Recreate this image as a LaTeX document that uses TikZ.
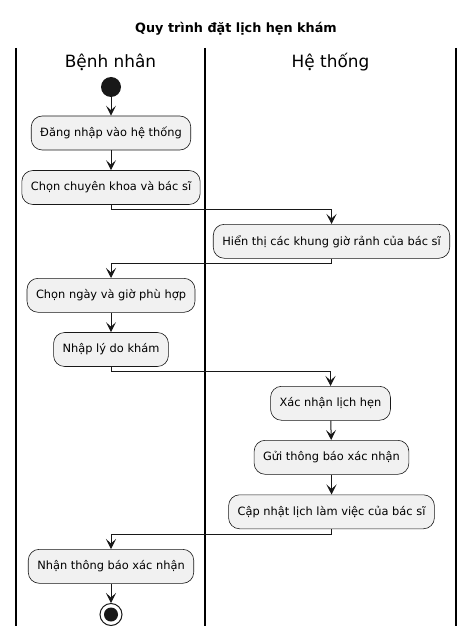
\documentclass[tikz,border=0pt]{standalone}
\usepackage{fontspec}
\setmainfont{DejaVu Sans}
\usetikzlibrary{arrows.meta,positioning}
\definecolor{boxfill}{HTML}{F1F1F1}
\definecolor{ink}{HTML}{181818}
\tikzset{
  act/.style={draw=ink, line width=0.6pt, fill=boxfill, rounded corners=11pt,
    minimum height=34pt, inner xsep=9pt, inner ysep=0pt, font=\fontsize{11.4}{14}\selectfont, text=black},
  arr/.style={draw=ink, line width=1pt, -{Stealth[length=10pt,width=10pt,inset=4.5pt]}},
  lane/.style={draw=black, line width=1.3pt},
  hdr/.style={font=\fontsize{16.9}{20}\selectfont, text=black},
}
\begin{document}
\begin{tikzpicture}[x=1pt,y=-1pt]
\useasboundingbox (0,0) rectangle (474,636);
\fill[white] (0,0) rectangle (474,636);
% title
\node[font=\bfseries\fontsize{12.8}{15}\selectfont] (title) at (236,29) {Quy trình đặt lịch hẹn khám};
% lanes
\coordinate (l1t) at (16,48); \coordinate (l1b) at (16,626);
\coordinate (l2t) at (205,48); \coordinate (l2b) at (205,626);
\coordinate (l3t) at (456,48); \coordinate (l3b) at (456,626);
\draw[lane] (l1t) -- (l1b);
\draw[lane] (l2t) -- (l2b);
\draw[lane] (l3t) -- (l3b);
\node[hdr] (h1) at (110.5,62) {Bệnh nhân};
\node[hdr] (h2) at (330.5,62) {Hệ thống};
% start
\node[circle, fill=ink, minimum size=20pt, inner sep=0pt] (start) at (111,87) {};
% activities
\node[act] (b1) at (111,133) {Đăng nhập vào hệ thống};
\node[act] (b2) at (111,187.5) {Chọn chuyên khoa và bác sĩ};
\node[act] (b3) at (331.5,241.3) {Hiển thị các khung giờ rảnh của bác sĩ};
\node[act] (b4) at (111,295.3) {Chọn ngày và giờ phù hợp};
\node[act] (b5) at (111,349.5) {Nhập lý do khám};
\node[act] (b6) at (330.5,403.3) {Xác nhận lịch hẹn};
\node[act] (b7) at (331.5,457.3) {Gửi thông báo xác nhận};
\node[act] (b8) at (331.5,511.8) {Cập nhật lịch làm việc của bác sĩ};
\node[act] (b9) at (111,566.3) {Nhận thông báo xác nhận};
% end
\node[circle, draw=ink, line width=1pt, fill=white, minimum size=22pt, inner sep=0pt] (stop) at (111,614.5) {};
\node[circle, fill=ink, minimum size=14pt, inner sep=0pt] (stopin) at (stop) {};
% connectors
\draw[arr] (start) -- (b1);
\draw[arr] (b1) -- (b2);
\draw[arr] (b2.south) -- ++(0,5) -| (b3.north);
\draw[arr] (b3.south) -- ++(0,5) -| (b4.north);
\draw[arr] (b4) -- (b5);
\draw[arr] (b5.south) -- ++(0,5) -| (b6.north);
\draw[arr] (b6) -- (b7);
\draw[arr] (b7) -- (b8);
\draw[arr] (b8.south) -- ++(0,5) -| (b9.north);
\draw[arr] (b9) -- (stop);
\end{tikzpicture}
\end{document}
